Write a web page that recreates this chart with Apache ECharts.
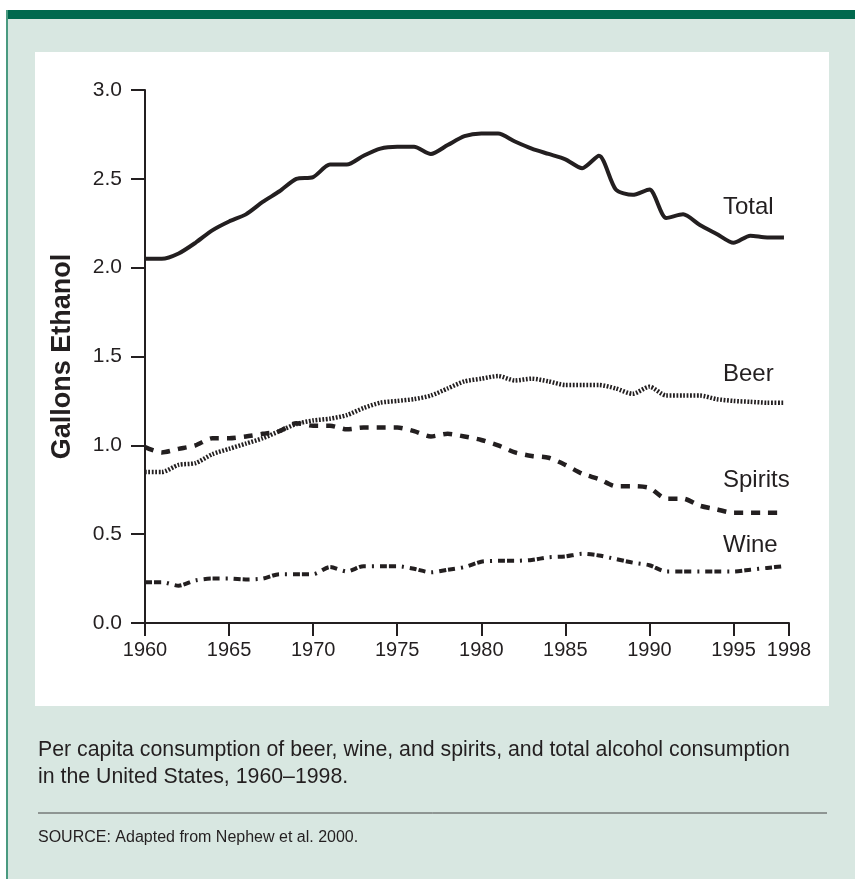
<!DOCTYPE html>
<html><head><meta charset="utf-8">
<script src="https://cdn.jsdelivr.net/npm/echarts@6/dist/echarts.min.js"></script>
<style>
html,body{margin:0;padding:0;background:#fff;}
#wrap{position:relative;width:855px;height:879px;overflow:hidden;}
.bg{position:absolute;}
#chart{position:absolute;left:0;top:0;width:855px;height:879px;}
</style></head><body>
<div id="wrap">
<div class="bg" style="left:6px;top:10px;width:849px;height:869px;background:#d8e7e1;"></div>
<div class="bg" style="left:6px;top:10px;width:849px;height:9px;background:#00694e;"></div>
<div class="bg" style="left:6px;top:10px;width:2px;height:869px;background:#4a9a80;"></div>
<div class="bg" style="left:35px;top:52px;width:794px;height:654px;background:#fff;"></div>
<div id="chart"></div>
</div>
<script>
const years = [1960,1961,1962,1963,1964,1965,1966,1967,1968,1969,
  1970,1971,1972,1973,1974,1975,1976,1977,1978,1979,
  1980,1981,1982,1983,1984,1985,1986,1987,1988,1989,
  1990,1991,1992,1993,1994,1995,1996,1997,1998];
const total = [2.05,2.05,2.08,2.14,2.21,2.26,2.30,2.37,2.43,2.50,
  2.51,2.58,2.58,2.63,2.67,2.68,2.68,2.64,2.69,2.74,
  2.755,2.755,2.71,2.67,2.64,2.61,2.56,2.63,2.44,2.41,
  2.44,2.28,2.30,2.24,2.19,2.14,2.18,2.17,2.17];
const beer = [0.85,0.85,0.89,0.90,0.95,0.98,1.01,1.04,1.08,1.12,
  1.14,1.15,1.17,1.21,1.24,1.25,1.26,1.28,1.32,1.36,
  1.375,1.39,1.365,1.375,1.36,1.34,1.34,1.34,1.32,1.29,
  1.33,1.28,1.28,1.28,1.26,1.25,1.245,1.24,1.24];
const spirits = [0.99,0.96,0.98,1.00,1.04,1.04,1.05,1.065,1.08,1.125,
  1.11,1.11,1.09,1.10,1.10,1.10,1.08,1.05,1.065,1.05,
  1.03,1.00,0.96,0.94,0.93,0.89,0.84,0.81,0.77,0.77,
  0.76,0.70,0.70,0.66,0.64,0.62,0.62,0.62,0.62];
const wine = [0.23,0.23,0.21,0.24,0.25,0.25,0.245,0.25,0.275,0.275,
  0.275,0.315,0.29,0.32,0.32,0.32,0.305,0.285,0.30,0.315,
  0.345,0.35,0.35,0.355,0.37,0.375,0.39,0.38,0.36,0.34,
  0.325,0.29,0.29,0.29,0.29,0.29,0.30,0.31,0.32];
const seriesNames = ['Total','Beer','Spirits','Wine'];
const yTicks = ['0.0','0.5','1.0','1.5','2.0','2.5','3.0'];
const caption1 = 'Per capita consumption of beer, wine, and spirits, and total alcohol consumption';
const caption2 = 'in the United States, 1960\u20131998.';
const sourceText = 'SOURCE: Adapted from Nephew et al. 2000.';

const ink = '#231f20';
const font = 'Liberation Sans, Arial, Helvetica, sans-serif';
const pairs = arr => years.map((y, i) => [y, arr[i]]);

const chart = echarts.init(document.getElementById('chart'), null, {renderer: 'canvas'});
const lineStyles = [
  {width: 4, type: 'solid'},
  {width: 4.5, type: [1.8, 1.6]},
  {width: 4.5, type: [9, 8]},
  {width: 4, type: [7, 2, 7, 6, 2, 6]}
];
const seriesData = [total, beer, spirits, wine];
const labelY = [207, 374, 480, 545];

chart.setOption({
  backgroundColor: 'transparent',
  animation: false,
  grid: {left: 145, top: 90, width: 644, height: 533, containLabel: false},
  xAxis: {
    type: 'value', min: 1960, max: 1998.3, interval: 5,
    axisLine: {lineStyle: {color: ink, width: 2}},
    axisTick: {length: 13, lineStyle: {color: ink, width: 2}},
    splitLine: {show: false},
    axisLabel: {
      color: ink, fontSize: 20, fontFamily: font, margin: 17,
      formatter: v => v > 1997 ? '1998' : String(Math.round(v))
    }
  },
  yAxis: {
    type: 'value', min: 0, max: 3, interval: 0.5,
    name: 'Gallons Ethanol', nameLocation: 'middle', nameRotate: 90, nameGap: 69,
    nameTextStyle: {color: ink, fontSize: 27, fontWeight: 'bold', fontFamily: font},
    axisLine: {show: true, lineStyle: {color: ink, width: 2}},
    axisTick: {show: true, length: 14, lineStyle: {color: ink, width: 2}},
    splitLine: {show: false},
    axisLabel: {
      color: ink, fontSize: 21, fontFamily: font, margin: 23,
      formatter: v => yTicks[Math.round(v * 2)]
    }
  },
  series: seriesNames.map((n, i) => ({
    name: n, type: 'line', data: pairs(seriesData[i]),
    symbol: 'none', smooth: 0.25,
    lineStyle: Object.assign({color: ink, cap: 'butt', join: 'round'}, lineStyles[i])
  })),
  graphic: [
    ...seriesNames.map((n, i) => ({
      type: 'text', left: 723, top: labelY[i] - 12, z: 10,
      style: {text: n, fontSize: 24, fontFamily: font, fill: ink}
    })),
    {type: 'text', left: 38, top: 740, style: {text: caption1, fontSize: 21.3, fontFamily: font, fill: ink}},
    {type: 'text', left: 38, top: 767, style: {text: caption2, fontSize: 21.3, fontFamily: font, fill: ink}},
    {type: 'line', shape: {x1: 38, y1: 813, x2: 827, y2: 813}, style: {stroke: '#444', lineWidth: 1}},
    {type: 'text', left: 38, top: 830, style: {text: sourceText, fontSize: 16, fontFamily: font, fill: ink}}
  ]
});
</script>
</body></html>
